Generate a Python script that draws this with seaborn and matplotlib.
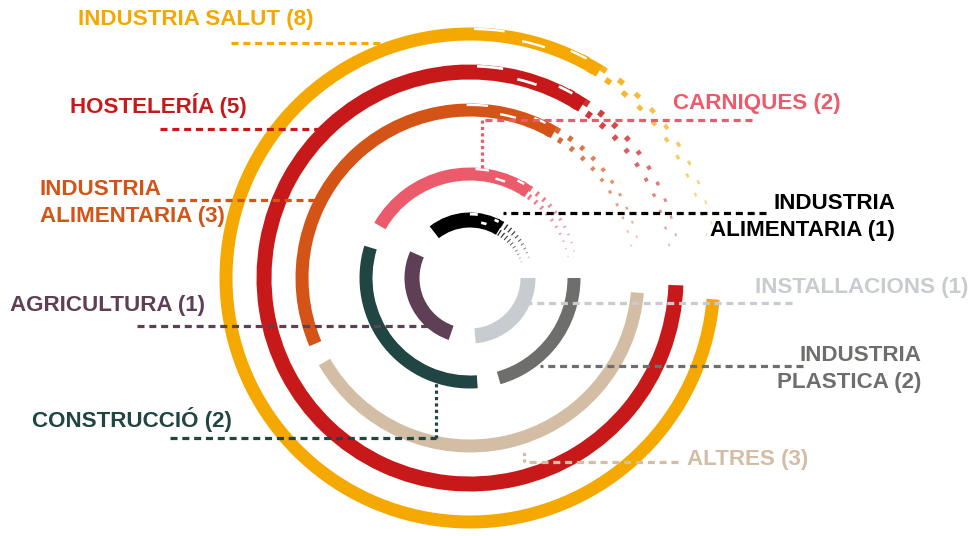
import numpy as np
import matplotlib
matplotlib.use("Agg")
import matplotlib.pyplot as plt
import seaborn as sns

# sectors, number of companies and the ring each one is drawn on
sectors = ["INDUSTRIA SALUT", "HOSTELERÍA", "INDUSTRIA\nALIMENTARIA", "CARNIQUES",
           "INDUSTRIA\nALIMENTARIA", "INSTALLACIONS", "INDUSTRIA\nPLASTICA", "ALTRES",
           "CONSTRUCCIÓ", "AGRICULTURA"]
counts = [8, 5, 3, 2, 1, 1, 2, 3, 2, 1]
ring = [5, 4, 3, 2, 1, 1, 2, 3, 2, 1]
# arc extent in degrees (counter-clockwise from east)
arc_start = [58, 57, 60, 56, 59, 275, 286, 210, 163, 156]
arc_end = [355, 358, 203, 150, 128, 360, 360, 355, 274, 251]
fade_end = [10, 9, 11, 12, 17, 275, 286, 210, 163, 156]

colors = ["#F5A800", "#C8191A", "#D45316", "#EC5B6B", "#000000",
          "#C8CBCF", "#6E6E6C", "#D3BDA5", "#214542", "#5F3F56"]

ring_radius = {1: 58, 2: 104, 3: 168, 4: 206, 5: 244}
ring_width = {1: 15, 2: 13, 3: 13, 4: 15, 5: 13}

sns.set_theme(style="white")
plt.rcParams["font.family"] = ["Liberation Sans", "DejaVu Sans"]

W, H = 970, 536
fig = plt.figure(figsize=(W / 100, H / 100), dpi=100)

# polar axes centred on the rings, radius in pixels
cx, cy, S = 470, 278, 270
ax = fig.add_axes([(cx - S) / W, (H - cy - S) / H, 2 * S / W, 2 * S / H], projection="polar")
ax.set_rlim(0, S)
ax.set_axis_off()

for i in range(len(sectors)):
    r = ring_radius[ring[i]]
    w = ring_width[ring[i]]
    t0, t1 = np.radians(arc_start[i]), np.radians(arc_end[i])
    ax.bar(t0, w, width=t1 - t0, bottom=r - w / 2, align="edge",
           color=colors[i], edgecolor="none")
    # brush tail that thins out into scattered bits
    if fade_end[i] < arc_start[i]:
        n = 22
        edges = np.linspace(arc_start[i] + 6, fade_end[i], n + 1)
        for k in range(n):
            frac = 1 - k / n
            hw = w * (0.08 + 0.42 * frac)
            a = np.radians(edges[k + 1])
            span = np.radians(edges[k] - edges[k + 1]) * (0.3 + 0.35 * frac)
            off = w * 0.28 * (-1 if k % 2 else 1)
            ax.bar(a, hw, width=span, bottom=r - hw / 2 + off,
                   align="edge", color=colors[i], edgecolor="none",
                   alpha=0.35 + 0.6 * frac)
        # a few white streaks where the brush starts to run dry
        for k, (o, f) in enumerate([(0.25, 0.35), (-0.2, 0.6), (0.3, 0.85)]):
            a = np.radians(arc_start[i] + 4 + 10 * k)
            ax.bar(a, w * 0.18, width=np.radians(6 * f + 2), bottom=r + o * w,
                   align="edge", color="white", edgecolor="none")

# overlay for labels and leader lines, in pixel coordinates
ov = fig.add_axes([0, 0, 1, 1])
ov.set_xlim(0, W)
ov.set_ylim(H, 0)
ov.set_axis_off()
ov.patch.set_alpha(0)

fs = 16.1
dash = dict(lw=2.3, linestyle=(0, (2.2, 1.5)))
dot = dict(lw=2.3, linestyle=(0, (1.0, 1.0)))

labels = [
    # text x, text y, ha, leader line points
    (78, 20, "left", [(231, 43), (391, 43)]),
    (70, 105, "left", [(160, 129), (319, 129)]),
    (40, 203, "left", [(166, 200), (326, 200)]),
    (673, 103, "left", [(752, 120), (482, 120)]),
    (895, 217, "right", [(766, 213), (503, 213)]),
    (755, 288, "left", [(792, 303), (528, 303)]),
    (921, 369, "right", [(803, 366), (540, 366)]),
    (687, 460, "left", [(678, 462), (524, 462)]),
    (32, 420, "left", [(170, 438), (436, 438)]),
    (10, 305, "left", [(137, 326), (432, 326)]),
]
verticals = {3: [(482, 120), (482, 168)], 7: [(524, 462), (524, 450)], 8: [(436, 438), (436, 380)]}

for i, (tx, ty, ha, pts) in enumerate(labels):
    ov.text(tx, ty, f"{sectors[i]} ({counts[i]})", ha=ha, va="center",
            multialignment=ha, fontsize=fs, fontweight="bold", color=colors[i],
            linespacing=1.32)
    xs, ys = zip(*pts)
    ov.plot(xs, ys, color=colors[i], **dash)
    if i in verticals:
        xs, ys = zip(*verticals[i])
        ov.plot(xs, ys, color=colors[i], **dot)

fig.savefig("out.png", dpi=100)
